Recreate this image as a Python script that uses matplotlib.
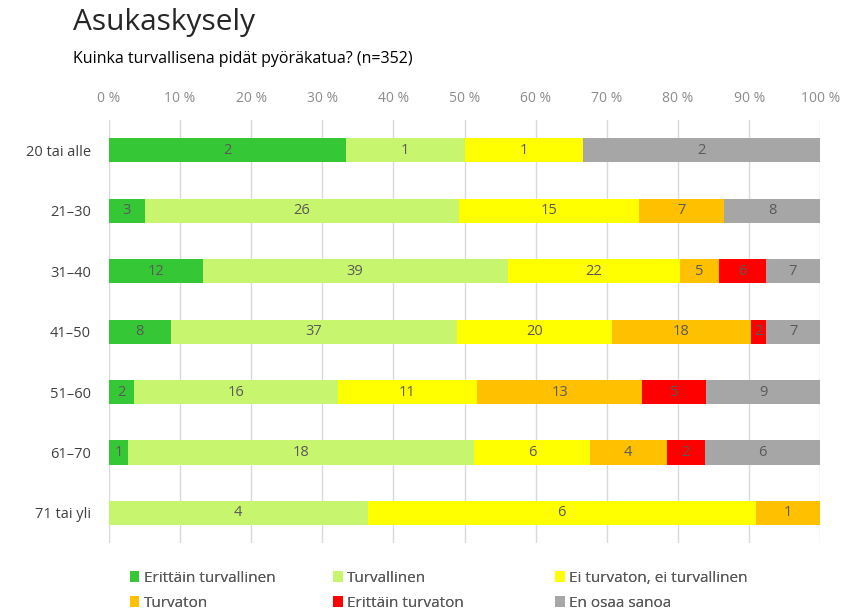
import matplotlib.pyplot as plt
import numpy as np

categories = ["20 tai alle", "21–30", "31–40", "41–50", "51–60", "61–70", "71 tai yli"]
series_names = ["Erittäin turvallinen", "Turvallinen", "Ei turvaton, ei turvallinen",
                "Turvaton", "Erittäin turvaton", "En osaa sanoa"]
erittain_turvallinen = [2, 3, 12, 8, 2, 1, 0]
turvallinen = [1, 26, 39, 37, 16, 18, 4]
ei_ei = [1, 15, 22, 20, 11, 6, 6]
turvaton = [0, 7, 5, 18, 13, 4, 1]
erittain_turvaton = [0, 0, 6, 2, 5, 2, 0]
en_osaa = [2, 8, 7, 7, 9, 6, 0]
colors = ["#36C736", "#C8F56E", "#FFFF00", "#FFC000", "#FF0000", "#A6A6A6"]
xtick_labels = ["0 %", "10 %", "20 %", "30 %", "40 %", "50 %", "60 %", "70 %", "80 %", "90 %", "100 %"]

series = [erittain_turvallinen, turvallinen, ei_ei, turvaton, erittain_turvaton, en_osaa]
data = np.array(series, dtype=float)
totals = data.sum(axis=0)
pct = data / totals * 100

plt.rcParams['font.family'] = ['Open Sans', 'DejaVu Sans']
fig = plt.figure(figsize=(8.44, 6.13), dpi=100)
ax = fig.add_axes([0.129, 0.114, 0.843, 0.690])

y = np.arange(len(categories))
left = np.zeros(len(categories))
for i, name in enumerate(series_names):
    ax.barh(y, pct[i], left=left, height=0.4, color=colors[i], label=name, zorder=3)
    for j in range(len(categories)):
        if data[i, j] > 0:
            ax.text(left[j] + pct[i, j] / 2, y[j], f"{int(data[i, j])}", ha='center', va='center',
                    fontsize=10.5, color="#595959", zorder=4)
    left += pct[i]

ax.set_xlim(0, 100)
ax.set_ylim(len(categories) - 0.5, -0.5)
ax.set_xticks(np.arange(0, 101, 10))
ax.set_xticklabels(xtick_labels)
ax.xaxis.tick_top()
ax.tick_params(axis='x', length=0, colors="#8C8C8C", labelsize=10, pad=10)
ax.set_yticks(y)
ax.set_yticklabels(categories)
ax.tick_params(axis='y', length=0, colors="#404040", labelsize=10.5, pad=13)
ax.grid(axis='x', color="#D9D9D9", linewidth=1, zorder=0)
for s in ax.spines.values():
    s.set_visible(False)

fig.text(0.086, 0.964, "Asukaskysely", fontsize=21.5, color="#262626", va='center', ha='left')
fig.text(0.086, 0.903, "Kuinka turvallisena pidät pyöräkatua? (n=352)", fontsize=11.5, color="#000000",
         va='center', ha='left')

handles, labels = ax.get_legend_handles_labels()
col_x = [0.154, 0.395, 0.658]
for c in range(3):
    idx = [c, c + 3]
    leg = fig.legend([handles[k] for k in idx], [labels[k] for k in idx], ncol=1,
                     loc='upper left', bbox_to_anchor=(col_x[c], 0.069), frameon=False, fontsize=11,
                     handlelength=0.6, handleheight=0.8, handletextpad=0.3,
                     labelspacing=0.65, labelcolor="#595959", borderpad=0, borderaxespad=0)
    fig.add_artist(leg)

fig.savefig("out.png", dpi=100)
